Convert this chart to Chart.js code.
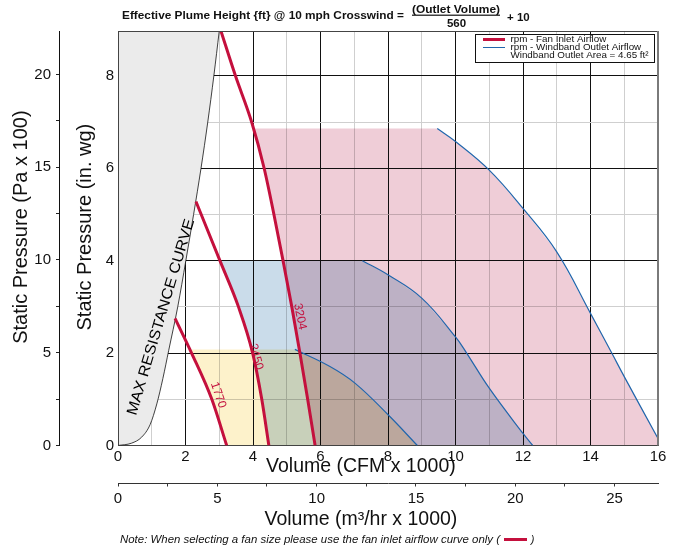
<!DOCTYPE html>
<html><head><meta charset="utf-8">
<script src="https://cdn.jsdelivr.net/npm/chart.js@4.4.1/dist/chart.umd.min.js"></script>
<style>html,body{margin:0;padding:0;background:#fff}canvas{display:block}</style>
</head><body>
<canvas id="c" width="676" height="550"></canvas>
<script>
// ---------------- data (CFM x 1000 , in. wg) ----------------
const maxResX   = [0, 0.4, 0.7, 0.95, 1.15, 1.33, 1.5, 1.77, 2.01, 2.24, 2.46, 2.66, 2.84, 3.0];
const maxResY   = [0, 0.05, 0.18, 0.45, 0.9, 1.45, 2.05, 3.0, 4.0, 5.0, 6.0, 7.0, 8.0, 8.97];

const fan3204X  = [3.05, 3.48, 3.96, 4.33, 4.62, 4.89, 5.15, 5.39, 5.62, 5.84];
const fan3204Y  = [8.97, 8.0, 7.0, 6.0, 5.0, 4.0, 3.0, 2.0, 1.0, 0];
const fan2450X  = [2.31, 3.02, 3.57, 3.99, 4.26, 4.47];
const fan2450Y  = [5.28, 4.0, 3.0, 2.0, 1.0, 0];
const fan1770X  = [1.69, 2.18, 2.78, 3.22];
const fan1770Y  = [2.75, 2.0, 1.0, 0];

// first point = corner where the shaded band meets the fan curve, second = start of windband curve
const windLargeX = [4.03, 9.46, 10.0, 11.0, 12.0, 13.0, 14.0, 14.63, 15.0, 16.0];
const windLargeY = [6.86, 6.86, 6.58, 5.96, 5.13, 4.19, 2.86, 2.0, 1.49, 0.15];
const windMidX   = [3.02, 7.24, 8.01, 9.0, 10.0, 10.33, 11.0, 12.0, 12.29];
const windMidY   = [4.0, 4.0, 3.69, 3.19, 2.35, 2.0, 1.24, 0.26, 0];
const windSmallX = [2.13, 5.24, 6.28, 7.02, 8.01, 8.87];
const windSmallY = [2.08, 2.08, 1.71, 1.35, 0.66, 0];

const fanLabels   = ['3204', '2450', '1770'];
const fanLabelPos = [[5.39, 2.79, 78], [4.09, 1.92, 75], [2.97, 1.09, 71]];

const cfmTicks = [0, 2, 4, 6, 8, 10, 12, 14, 16];
const m3Ticks  = [0, 5, 10, 15, 20, 25];
const inTicks  = [0, 2, 4, 6, 8];
const paTicks  = [0, 5, 10, 15, 20];

const X_MAX = 16, Y_MAX = 8.97;
const CFM_TO_M3 = 1.699;      // 1000 CFM -> 1000 m3/hr
const IN_TO_HPA = 2.4909;     // 1 in. wg -> 100 Pa
// -------------------------------------------------------------

const FONT = "'Liberation Sans', Arial, Helvetica, sans-serif";
Chart.defaults.font.family = FONT;
Chart.defaults.color = '#111';

const RED = '#C4103D', BLUE = '#2166AC';
const pts = (xs, ys) => xs.map((x, i) => ({x, y: ys[i]}));
const fan3204 = pts(fan3204X, fan3204Y), fan2450 = pts(fan2450X, fan2450Y), fan1770 = pts(fan1770X, fan1770Y);
const windL = pts(windLargeX, windLargeY), windM = pts(windMidX, windMidY), windS = pts(windSmallX, windSmallY);

function boundary(fan, wind) {
  const top = wind[0].y;
  const out = [wind[0]];
  fan.forEach(p => { if (p.y < top) out.push(p); });
  out.push({x: wind[wind.length - 1].x, y: 0});
  return out;
}

const NONE = 'rgba(0,0,0,0)';
const fanDs  = (data) => ({data, borderColor: RED, borderWidth: 3, pointRadius: 0, fill: false, cubicInterpolationMode: 'monotone'});
const lineDs = (data) => ({data: data.slice(1), borderColor: BLUE, borderWidth: 1.2, pointRadius: 0, fill: false, tension: 0.4});
const bndDs  = (data) => ({data, borderColor: NONE, borderWidth: 1, pointRadius: 0, fill: false, tension: 0});
const fillDs = (data, target, bg) => ({data, borderColor: NONE, borderWidth: 1, pointRadius: 0, fill: target, backgroundColor: bg, tension: 0});

const datasets = [
  fanDs(fan3204),                                   // 0
  fanDs(fan2450),                                   // 1
  fanDs(fan1770),                                   // 2
  {data: pts(maxResX, maxResY), borderColor: '#111', borderWidth: 0.8, pointRadius: 0,
   fill: 'end', backgroundColor: '#EBEBEB', cubicInterpolationMode: 'monotone'},   // 3
  lineDs(windL),                                    // 4
  lineDs(windM),                                    // 5
  lineDs(windS),                                    // 6
  bndDs(boundary(fan3204, windL)),                  // 7
  bndDs(boundary(fan2450, windM)),                  // 8
  bndDs(boundary(fan1770, windS)),                  // 9
  fillDs(windL, 7, '#EFCDD7'),                      // 10
  fillDs(windM, 8, '#CADCEA'),                      // 11
  fillDs(windS, 9, '#FDF2CB')                       // 12
];

const gridCol = c => (c.tick && c.tick.value % 2 === 0) ? '#111' : '#CFCFCF';

// shaded bands are multiplied over each other and over the grid
const blend = {
  id: 'blend',
  beforeDatasetsDraw(chart) { chart.ctx.globalCompositeOperation = 'multiply'; },
  afterDatasetDraw(chart, args) { if (args.index === 10) chart.ctx.globalCompositeOperation = 'source-over'; },
  afterDatasetsDraw(chart) { chart.ctx.globalCompositeOperation = 'source-over'; }
};

// text drawn with horizontal scaling so it spans a given width
function fitText(ctx, txt, x, y, width, align) {
  const w = ctx.measureText(txt).width;
  const s = width ? width / w : 1;
  ctx.save();
  ctx.translate(x, y);
  ctx.scale(s, 1);
  ctx.textAlign = align || 'left';
  ctx.fillText(txt, 0, 0);
  ctx.restore();
  return w * s;
}

const deco = {
  id: 'deco',
  afterDatasetsDraw(chart) {
    const {ctx, chartArea: a, scales: {x, y}} = chart;
    ctx.save();
    // frame
    ctx.strokeStyle = '#444'; ctx.lineWidth = 1;
    ctx.beginPath();
    ctx.moveTo(Math.round(a.left) + 0.5, a.bottom); ctx.lineTo(Math.round(a.left) + 0.5, a.top);
    ctx.moveTo(a.left, Math.round(a.top) + 0.5); ctx.lineTo(a.right, Math.round(a.top) + 0.5);
    ctx.stroke();
    ctx.strokeStyle = '#7A7A7A'; ctx.lineWidth = 2;
    ctx.beginPath(); ctx.moveTo(a.right, a.top); ctx.lineTo(a.right, a.bottom); ctx.stroke();

    // curve labels
    const rot = (txt, dx, dy, deg, font, col, width) => {
      ctx.save();
      ctx.translate(x.getPixelForValue(dx), y.getPixelForValue(dy));
      ctx.rotate(deg * Math.PI / 180);
      ctx.font = font; ctx.fillStyle = col;
      ctx.textBaseline = 'middle';
      fitText(ctx, txt, 0, 0, width, 'center');
      ctx.restore();
    };
    fanLabels.forEach((t, i) => rot(t, fanLabelPos[i][0], fanLabelPos[i][1], fanLabelPos[i][2],
      "12px " + FONT, RED, 0));
    rot('MAX RESISTANCE CURVE', 1.28, 2.78, -73.4, "15px " + FONT, '#000', 204);

    // legend
    ctx.fillStyle = '#fff'; ctx.fillRect(475.5, 34.5, 179, 28);
    ctx.strokeStyle = '#111'; ctx.lineWidth = 1; ctx.strokeRect(475.5, 34.5, 179, 28);
    ctx.strokeStyle = RED; ctx.lineWidth = 3;
    ctx.beginPath(); ctx.moveTo(483, 39.5); ctx.lineTo(505, 39.5); ctx.stroke();
    ctx.strokeStyle = BLUE; ctx.lineWidth = 1;
    ctx.beginPath(); ctx.moveTo(483, 47.5); ctx.lineTo(505, 47.5); ctx.stroke();
    ctx.fillStyle = '#111'; ctx.font = "9.8px " + FONT;
    ctx.textAlign = 'left'; ctx.textBaseline = 'middle';
    ctx.fillText('rpm - Fan Inlet Airflow', 510.5, 39);
    ctx.fillText('rpm - Windband Outlet Airflow', 510.5, 47.2);
    ctx.fillText('Windband Outlet Area = 4.65 ft\u00B2', 510.5, 55.6);
    ctx.restore();
  },
  afterDraw(chart) {
    const ctx = chart.ctx;
    ctx.save();
    ctx.fillStyle = '#111';
    ctx.textBaseline = 'alphabetic';
    ctx.font = "bold 11.5px " + FONT;
    fitText(ctx, 'Effective Plume Height {ft} @ 10 mph Crosswind =', 122, 18.5, 282, 'left');
    fitText(ctx, '(Outlet Volume)', 412, 12.5, 88, 'left');
    ctx.fillRect(412, 14.6, 88, 1.2);
    ctx.textAlign = 'center';
    ctx.fillText('560', 456.5, 26.5);
    ctx.textAlign = 'left';
    ctx.fillText('+ 10', 507, 20.5);

    ctx.font = "italic 10px " + FONT;
    const w = fitText(ctx, 'Note: When selecting a fan size please use the fan inlet airflow curve only (', 120, 543, 380, 'left');
    ctx.strokeStyle = RED; ctx.lineWidth = 3;
    ctx.beginPath(); ctx.moveTo(120 + w + 4, 539.5); ctx.lineTo(120 + w + 27, 539.5); ctx.stroke();
    ctx.fillText(')', 120 + w + 31, 543);
    ctx.restore();
  }
};

// titles are centred on the span that includes the pressure axes; pad with spaces to shift them
const SP = n => ' '.repeat(n);

new Chart(document.getElementById('c'), {
  type: 'line',
  data: {datasets},
  options: {
    responsive: false, animation: false, events: [],
    layout: {padding: {top: 31, right: 18, left: 0, bottom: 14}},
    plugins: {legend: {display: false}, tooltip: {enabled: false}, filler: {propagate: false}},
    scales: {
      x: {
        type: 'linear', position: 'bottom', weight: 0, min: 0, max: X_MAX,
        ticks: {stepSize: 1, autoSkip: false, maxRotation: 0, padding: 2, color: '#111',
                font: {size: 15}, callback: v => cfmTicks.includes(v) ? String(v) : ''},
        grid: {color: gridCol, drawTicks: false, lineWidth: 1},
        border: {color: '#444', width: 1},
        title: {display: true, text: 'Volume (CFM x 1000)' + SP(10), color: '#111', font: {size: 19.5}, padding: {top: 0, bottom: 4.8}},
        afterFit: s => { s.height = 38; }
      },
      x2: {
        type: 'linear', axis: 'x', position: 'bottom', weight: 1, min: 0, max: X_MAX * CFM_TO_M3,
        ticks: {stepSize: 2.5, includeBounds: false, autoSkip: false, maxRotation: 0, padding: 3.8, color: '#111',
                font: {size: 15}, callback: v => m3Ticks.includes(v) ? String(v) : ''},
        grid: {drawOnChartArea: false, drawTicks: true, tickLength: 3, color: '#333'},
        border: {color: '#333', width: 1},
        title: {display: true, text: 'Volume (m\u00B3/hr x 1000)' + SP(10), color: '#111', font: {size: 19.5}, padding: {top: 0, bottom: 4.3}},
        afterFit: s => { s.height = 52.5; }
      },
      y: {
        type: 'linear', position: 'left', weight: 0, min: 0, max: Y_MAX,
        ticks: {stepSize: 1, includeBounds: false, autoSkip: false, padding: 4, color: '#111',
                font: {size: 15}, callback: v => inTicks.includes(v) ? String(v) : ''},
        grid: {color: gridCol, drawTicks: false, lineWidth: 1},
        border: {color: '#444', width: 1},
        title: {display: true, text: SP(4) + 'Static Pressure (in. wg)', color: '#111', font: {size: 20}, padding: {top: 14, bottom: 0}},
        afterFit: s => { s.width = 59; }
      },
      y2: {
        type: 'linear', axis: 'y', position: 'left', weight: 1, min: 0, max: Y_MAX * IN_TO_HPA,
        ticks: {stepSize: 2.5, includeBounds: false, autoSkip: false, padding: 5, color: '#111',
                font: {size: 15}, callback: v => paTicks.includes(v) ? String(v) : ''},
        grid: {drawOnChartArea: false, drawTicks: true, tickLength: 3, color: '#222'},
        border: {color: '#111', width: 1},
        title: {display: true, text: SP(4) + 'Static Pressure (Pa x 100)', color: '#111', font: {size: 20}, padding: {top: 9, bottom: 0}},
        afterFit: s => { s.width = 59; }
      }
    }
  },
  plugins: [blend, deco]
});
</script>
</body></html>
